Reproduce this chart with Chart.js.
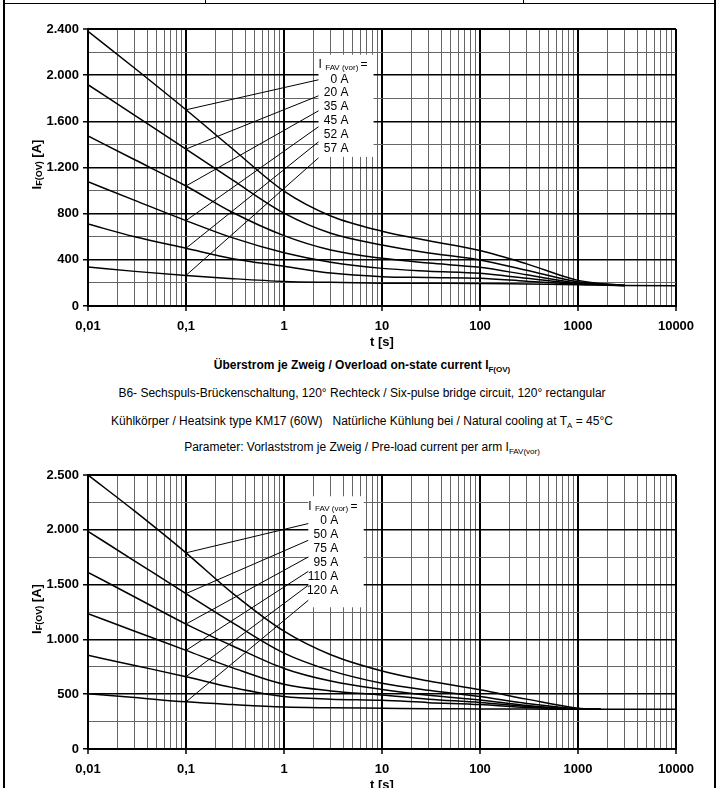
<!DOCTYPE html>
<html>
<head>
<meta charset="utf-8">
<script src="https://cdn.jsdelivr.net/npm/chart.js@4.4.1/dist/chart.umd.min.js"></script>
<style>
  html, body { margin: 0; padding: 0; background: #fff; }
  body { width: 721px; height: 788px; overflow: hidden; position: relative;
         font-family: "Liberation Sans", Arial, sans-serif; color: #000; }
  .rule { position: absolute; background: #000; }
  .plot { position: absolute; left: 0; width: 721px; }
  .caption { position: absolute; left: 0; width: 724px; text-align: center;
             font-size: 12px; line-height: 14px; white-space: nowrap; }
  .caption.bold { font-weight: bold; }
  .caption sub { font-size: 8px; vertical-align: -3px; line-height: 0; }
</style>
</head>
<body>

<!-- page frame -->
<div class="rule" style="left:3px;top:0;width:2px;height:788px"></div>
<div class="rule" style="left:714px;top:0;width:2px;height:788px"></div>
<div class="rule" style="left:3px;top:3px;width:713px;height:1px"></div>
<div class="rule" style="left:205px;top:0;width:1px;height:4px"></div>
<div class="rule" style="left:523px;top:0;width:1px;height:4px"></div>

<div class="plot" style="top:0;height:350px"><canvas id="chartTop" width="721" height="350"></canvas></div>

<div class="caption bold" style="top:358px">Überstrom je Zweig / Overload on-state current I<sub>F(OV)</sub></div>
<div class="caption" style="top:386px">B6- Sechspuls-Brückenschaltung, 120° Rechteck / Six-pulse bridge circuit, 120° rectangular</div>
<div class="caption" style="top:414px">Kühlkörper / Heatsink type KM17 (60W)&nbsp;&nbsp; Natürliche Kühlung bei / Natural cooling at T<sub>A</sub> = 45°C</div>
<div class="caption" style="top:440px">Parameter: Vorlaststrom je Zweig / Pre-load current per arm I<sub>FAV(vor)</sub></div>

<div class="plot" style="top:446px;height:347px"><canvas id="chartBottom" width="721" height="347"></canvas></div>

<script>
/* ── Data: top chart (KM17 heatsink, IFAV(vor) 0…57 A) ─────────────── */
const timesTop = [0.01, 0.03, 0.1, 0.3, 1, 3, 10, 30, 100, 300, 1000, 3000, 10000];
const namesTop = ["0 A", "20 A", "35 A", "45 A", "52 A", "57 A"];
const top0A  = [2380, 2060, 1700, 1360, 995, 780, 648, 565, 480, 365, 222, 178, null];
const top20A = [1917, 1651, 1360, 1090, 804, 630, 529, 460, 399, 310, 210, 177, null];
const top35A = [1474, 1267, 1040, 810, 610, 485, 413, 372, 335, 270, 200, 177, null];
const top45A = [1076, 915, 740, 590, 462, 380, 326, 302, 283, 240, 195, 177, null];
const top52A = [710, 600, 500, 410, 345, 285, 254, 247, 240, 215, 190, 177, null];
const top57A = [338, 300, 265, 237, 213, 205, 198, 197, 196, 190, 184, 177, 176];
const leaderEndTimeTop = 2.25;
const leaderEndTop = [1960, 1821, 1691, 1553, 1422, 1284];

/* ── Data: bottom chart (IFAV(vor) 0…120 A) ────────────────────────── */
const timesBottom = [0.01, 0.03, 0.1, 0.3, 1, 3, 10, 30, 100, 300, 1000, 1700, 10000];
const namesBottom = ["0 A", "50 A", "75 A", "95 A", "110 A", "120 A"];
const bot0A   = [2500, 2170, 1790, 1420, 1075, 860, 712, 620, 540, 455, 372, 362, null];
const bot50A  = [1986, 1715, 1418, 1150, 875, 715, 600, 535, 478, 415, 367, 362, null];
const bot75A  = [1612, 1387, 1140, 940, 735, 620, 543, 490, 448, 398, 365, 362, null];
const bot95A  = [1235, 1075, 900, 740, 590, 530, 493, 455, 425, 387, 364, 362, null];
const bot110A = [855, 762, 660, 560, 478, 455, 444, 423, 405, 378, 363, 362, null];
const bot120A = [505, 470, 430, 405, 383, 376, 372, 368, 366, 364, 363, 362, 362];
const leaderEndTimeBottom = 1.77;
const leaderEndBottom = [2057, 1904, 1752, 1621, 1494, 1357];

/* ── Axis ticks ────────────────────────────────────────────────────── */
const decadeTicks  = [0.01, 0.1, 1, 10, 100, 1000, 10000];
const decadeLabels = ["0,01", "0,1", "1", "10", "100", "1000", "10000"];
const leaderStartTime = 0.1;

const FONT = "'Liberation Sans', Arial, sans-serif";

// every 1..9 × 10^n step between the decades, for the log grid
const logGridValues = [];
for (let e = -2; e < 4; e++) {
  for (let m = 1; m < 10; m++) logGridValues.push(Number((m * Math.pow(10, e)).toPrecision(3)));
}
logGridValues.push(10000);

const decadeIndex = (v) => decadeTicks.findIndex((d) => Math.abs(d - v) / d < 1e-6);

// German thousands separator: 2400 -> "2.400"
function fmtDe(v) {
  if (v < 1000) return String(v);
  return Math.floor(v / 1000) + "." + String(v % 1000).padStart(3, "0");
}

/* ── Plugins ───────────────────────────────────────────────────────── */

/* white label box with "I FAV(vor) =" and the curve names */
const curveLabelPlugin = {
  id: "curveLabels",
  beforeDatasetsDraw(chart, args, opts) {
    const { x, y } = chart.scales;
    const l = x.getPixelForValue(opts.box.t0), r = x.getPixelForValue(opts.box.t1);
    const t = y.getPixelForValue(opts.box.yTop), b = y.getPixelForValue(opts.box.yBottom);
    const ctx = chart.ctx;
    ctx.save();
    ctx.fillStyle = "#fff";
    ctx.fillRect(l, t, r - l, b - t);
    ctx.restore();
  },
  afterDatasetsDraw(chart, args, opts) {
    const { x, y } = chart.scales;
    const l = x.getPixelForValue(opts.box.t0);
    const t = y.getPixelForValue(opts.box.yTop);
    const ctx = chart.ctx;
    ctx.save();
    ctx.fillStyle = "#000";
    ctx.textBaseline = "middle";

    // heading: I FAV (vor) =
    let hx = l, hy = t + 10;
    ctx.font = "12px " + FONT;
    ctx.textAlign = "left";
    ctx.fillText("I", hx, hy);
    hx += ctx.measureText("I ").width;
    ctx.font = "8px " + FONT;
    ctx.fillText("FAV (vor)", hx, hy + 3);
    hx += ctx.measureText("FAV (vor) ").width;
    ctx.font = "12px " + FONT;
    ctx.fillText("=", hx, hy);

    ctx.textAlign = "right";
    opts.names.forEach((n, i) => ctx.fillText(n, l + 30, t + 24.5 + i * 13.9));
    ctx.restore();
  },
};

/* rotated y title with subscript: I F(OV) [A] */
const yTitlePlugin = {
  id: "yTitle",
  afterDraw(chart) {
    const ctx = chart.ctx;
    const area = chart.chartArea;
    const parts = [
      { text: "I", size: 13, dy: 0 },
      { text: "F(OV)", size: 9, dy: 3 },
      { text: " [A]", size: 13, dy: 0 },
    ];
    ctx.save();
    ctx.translate(37, (area.top + area.bottom) / 2 - 3);
    ctx.rotate(-Math.PI / 2);
    ctx.fillStyle = "#000";
    ctx.textBaseline = "middle";
    ctx.textAlign = "left";
    let total = 0;
    parts.forEach((p) => { ctx.font = "bold " + p.size + "px " + FONT; p.w = ctx.measureText(p.text).width; total += p.w; });
    let px = -total / 2;
    parts.forEach((p) => { ctx.font = "bold " + p.size + "px " + FONT; ctx.fillText(p.text, px, p.dy); px += p.w; });
    ctx.restore();
  },
};

/* ── Dataset builders ──────────────────────────────────────────────── */
function curveSets(times, curves) {
  return curves.map((vals) => ({
    data: times.map((t, i) => ({ x: t, y: vals[i] })).filter((p) => p.y !== null),
    borderColor: "#000",
    borderWidth: 1.5,
    pointRadius: 0,
    cubicInterpolationMode: "monotone",
    fill: false,
  }));
}

function leaderSets(times, curves, endTime, endVals) {
  const i0 = times.indexOf(leaderStartTime);
  return curves.map((vals, k) => ({
    data: [{ x: leaderStartTime, y: vals[i0] }, { x: endTime, y: endVals[k] }],
    borderColor: "#000",
    borderWidth: 1,
    pointRadius: 0,
    tension: 0,
    fill: false,
  }));
}

/* ── Chart factory ─────────────────────────────────────────────────── */
function makeChart(id, cfg) {
  const tickFont = { family: FONT, size: 13, weight: "bold" };
  return new Chart(document.getElementById(id), {
    type: "line",
    data: {
      datasets: [
        ...curveSets(cfg.times, cfg.curves),
        ...leaderSets(cfg.times, cfg.curves, cfg.leaderTime, cfg.leaderEnds),
      ],
    },
    options: {
      responsive: false,
      animation: false,
      layout: { padding: { top: 29, right: 45, left: 0, bottom: 0 } },
      plugins: {
        legend: { display: false },
        tooltip: { enabled: false },
        curveLabels: { names: cfg.names, box: cfg.box },
      },
      scales: {
        x: {
          type: "logarithmic",
          min: 0.01,
          max: 10000,
          afterBuildTicks: (s) => { s.ticks = logGridValues.map((v) => ({ value: v })); },
          afterFit: (s) => { s.height = 44; },
          ticks: {
            autoSkip: false,
            maxRotation: 0,
            padding: 8,
            color: "#000",
            font: tickFont,
            callback: (v) => { const i = decadeIndex(v); return i >= 0 ? decadeLabels[i] : ""; },
          },
          grid: {
            color: (c) => (c.tick && decadeIndex(c.tick.value) >= 0 ? "#000" : "#666"),
            lineWidth: (c) => (c.tick && decadeIndex(c.tick.value) >= 0 ? 2 : 1),
            tickColor: (c) => (c.tick && decadeIndex(c.tick.value) >= 0 ? "#000" : "rgba(0,0,0,0)"),
            tickWidth: 1.5,
            tickLength: 5,
          },
          border: { color: "#000", width: 2 },
          title: { display: true, text: "t [s]", color: "#000", font: tickFont, padding: 0 },
        },
        y: {
          type: "linear",
          min: 0,
          max: cfg.yMax,
          afterFit: (s) => { s.width = 88; },
          ticks: {
            stepSize: cfg.yStep,
            padding: 4,
            color: "#000",
            font: tickFont,
            callback: (v) => (v % cfg.yMajor === 0 ? fmtDe(v) : ""),
          },
          grid: {
            color: (c) => (c.tick && c.tick.value % cfg.yMajor === 0 ? "#000" : "#666"),
            lineWidth: (c) => (c.tick && (c.tick.value === cfg.yMax) ? 2 : c.tick && c.tick.value % cfg.yMajor === 0 ? 1.5 : 1),
            tickColor: (c) => (c.tick && c.tick.value % cfg.yMajor === 0 ? "#000" : "rgba(0,0,0,0)"),
            tickWidth: 1.5,
            tickLength: 5,
          },
          border: { color: "#000", width: 2 },
        },
      },
    },
    plugins: [curveLabelPlugin, yTitlePlugin],
  });
}

makeChart("chartTop", {
  times: timesTop,
  curves: [top0A, top20A, top35A, top45A, top52A, top57A],
  names: namesTop,
  leaderTime: leaderEndTimeTop,
  leaderEnds: leaderEndTop,
  yMax: 2400, yStep: 200, yMajor: 400,
  box: { t0: 2.25, t1: 8.2, yTop: 2177, yBottom: 1292 },
});

makeChart("chartBottom", {
  times: timesBottom,
  curves: [bot0A, bot50A, bot75A, bot95A, bot110A, bot120A],
  names: namesBottom,
  leaderTime: leaderEndTimeBottom,
  leaderEnds: leaderEndBottom,
  yMax: 2500, yStep: 250, yMajor: 500,
  box: { t0: 1.77, t1: 6.5, yTop: 2306, yBottom: 1293 },
});
</script>
</body>
</html>
